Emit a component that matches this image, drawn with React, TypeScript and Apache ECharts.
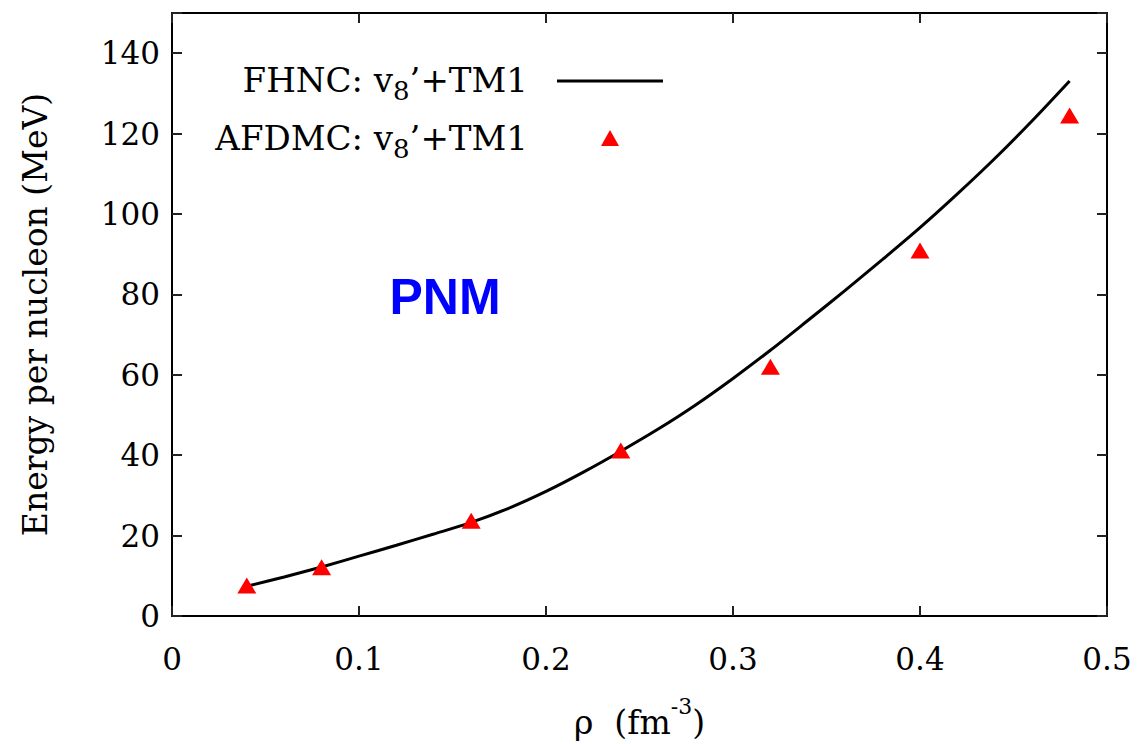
import React, { useEffect, useRef } from "react";
import * as echarts from "echarts";

// FHNC: v8'+TM1 curve (rho in fm^-3, energy per nucleon in MeV)
const fhncRho = [0.04, 0.06, 0.08, 0.10, 0.12, 0.14, 0.16, 0.18, 0.20, 0.22, 0.24, 0.26, 0.28, 0.30, 0.32, 0.34, 0.36, 0.38, 0.40, 0.42, 0.44, 0.46, 0.48];
const fhncE = [7.4, 9.7, 12.2, 14.9, 17.6, 20.4, 23.3, 26.8, 31.0, 35.8, 41.0, 46.5, 52.5, 59.1, 66.1, 73.5, 81.0, 88.7, 96.6, 105.0, 113.8, 123.2, 133.1];

// AFDMC: v8'+TM1 points
const afdmcRho = [0.04, 0.08, 0.16, 0.24, 0.32, 0.40, 0.48];
const afdmcE = [7.6, 12.1, 23.7, 41.2, 62.0, 90.9, 124.5];

const xMin = 0;
const xMax = 0.5;
const xStep = 0.1;
const yMin = 0;
const yMax = 150;
const yStep = 20;

const SERIF = "'DejaVu Serif', serif";

export default function App() {
  const ref = useRef<HTMLDivElement>(null);

  useEffect(() => {
    if (!ref.current) return;
    const chart = echarts.init(ref.current, null, { renderer: "svg" });

    const axisLine = { show: true, onZero: false, lineStyle: { color: "#000", width: 2 } };
    const tick = { show: true, inside: true, length: 10, lineStyle: { color: "#222", width: 2 } };

    const option: any = {
      animation: false,
      backgroundColor: "#fff",
      grid: { left: 172, right: 40, top: 13, bottom: 126, containLabel: false },
      xAxis: [
        {
          type: "value",
          min: xMin,
          max: xMax,
          interval: xStep,
          position: "bottom",
          axisLine,
          axisTick: tick,
          splitLine: { show: false },
          axisLabel: {
            margin: 27,
            fontFamily: SERIF,
            fontSize: 31,
            color: "#000",
            formatter: (v: number) => (v === 0 ? "0" : v.toFixed(1)),
          },
          name: "{n|ρ  (fm}{s|-3}{n|)}",
          nameLocation: "middle",
          nameGap: 79,
          nameTextStyle: {
            rich: {
              n: { fontFamily: SERIF, fontSize: 33, color: "#000", lineHeight: 44, verticalAlign: "bottom" },
              s: { fontFamily: SERIF, fontSize: 22, color: "#000", lineHeight: 44, verticalAlign: "top" },
            },
          },
        },
        {
          type: "value",
          min: xMin,
          max: xMax,
          interval: xStep,
          position: "top",
          axisLine,
          axisTick: tick,
          axisLabel: { show: false },
          splitLine: { show: false },
        },
      ],
      yAxis: [
        {
          type: "value",
          min: yMin,
          max: yMax,
          interval: yStep,
          position: "left",
          axisLine,
          axisTick: tick,
          splitLine: { show: false },
          axisLabel: {
            margin: 12,
            fontFamily: SERIF,
            fontSize: 31,
            color: "#000",
            formatter: (v: number) => (v === yMax ? "" : String(v)),
          },
          name: "Energy per nucleon (MeV)",
          nameLocation: "middle",
          nameGap: 120,
          nameTextStyle: { fontFamily: SERIF, fontSize: 33, color: "#000" },
        },
        {
          type: "value",
          min: yMin,
          max: yMax,
          interval: yStep,
          position: "right",
          axisLine,
          axisTick: tick,
          axisLabel: { show: false },
          splitLine: { show: false },
        },
      ],
      series: [
        {
          name: "FHNC: v8'+TM1",
          type: "line",
          data: fhncRho.map((x, i) => [x, fhncE[i]]),
          smooth: 0.3,
          showSymbol: false,
          symbol: "none",
          lineStyle: { color: "#000", width: 3 },
          z: 2,
        },
        {
          name: "AFDMC: v8'+TM1",
          type: "scatter",
          data: afdmcRho.map((x, i) => [x, afdmcE[i]]),
          symbol: "triangle",
          symbolSize: [19, 16],
          itemStyle: { color: "#ff0000", opacity: 1 },
          z: 3,
        },
      ],
      graphic: [
        {
          type: "text",
          x: 528,
          y: 80,
          style: {
            text: "{a|FHNC: v}{s|8}{a|’+TM1}",
            align: "right",
            verticalAlign: "middle",
            rich: {
              a: { fontFamily: SERIF, fontSize: 34, fill: "#000", lineHeight: 48, verticalAlign: "middle" },
              s: { fontFamily: SERIF, fontSize: 26, fill: "#000", lineHeight: 48, verticalAlign: "bottom" },
            },
          },
        },
        {
          type: "line",
          shape: { x1: 557, y1: 81, x2: 663, y2: 81 },
          style: { stroke: "#000", lineWidth: 3 },
        },
        {
          type: "text",
          x: 528,
          y: 138,
          style: {
            text: "{a|AFDMC: v}{s|8}{a|’+TM1}",
            align: "right",
            verticalAlign: "middle",
            rich: {
              a: { fontFamily: SERIF, fontSize: 34, fill: "#000", lineHeight: 48, verticalAlign: "middle" },
              s: { fontFamily: SERIF, fontSize: 26, fill: "#000", lineHeight: 48, verticalAlign: "bottom" },
            },
          },
        },
        {
          type: "polygon",
          shape: { points: [[601, 146], [619, 146], [610, 130]] },
          style: { fill: "#ff0000" },
        },
        {
          type: "text",
          x: 445,
          y: 297,
          style: {
            text: "PNM",
            align: "center",
            verticalAlign: "middle",
            fontFamily: "'Liberation Sans', Arial, sans-serif",
            fontWeight: "bold",
            fontSize: 50,
            fill: "#0000ff",
          },
        },
      ],
    };

    chart.setOption(option);
    return () => chart.dispose();
  }, []);

  return (
    <div
      ref={ref}
      style={{ position: "fixed", left: 0, top: 0, width: 1147, height: 744, background: "#fff" }}
    />
  );
}
